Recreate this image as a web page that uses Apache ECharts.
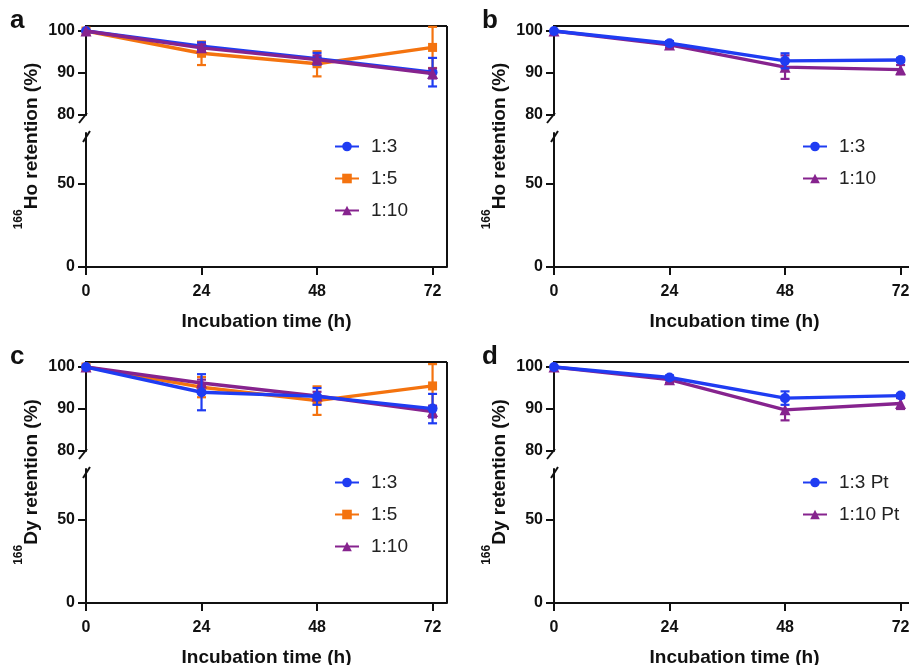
<!DOCTYPE html>
<html>
<head>
<meta charset="utf-8">
<script src="https://cdn.jsdelivr.net/npm/echarts@6/dist/echarts.min.js"></script>
<style>
html,body{margin:0;padding:0;background:#fff;}
#chart{width:909px;height:665px;}
</style>
</head>
<body>
<div id="chart"></div>
<script>
// ---------- data ----------
const hours = [0, 24, 48, 72];
const xTicks = [0, 24, 48, 72];
const yUpperTicks = [80, 90, 100];
const yLowerTicks = [0, 50];
const xTitle = 'Incubation time (h)';

// Panel a (166Ho)
const aRatio13 = [100, 96.4, 93.4, 90.2];
const aRatio13Err = [0, 0.9, 1.4, 3.4];
const aRatio15 = [100, 94.7, 92.2, 96.1];
const aRatio15Err = [0, 2.8, 3.0, 4.9];
const aRatio110 = [100, 96.0, 93.2, 89.9];
const aRatio110Err = [0, 0.8, 1.0, 1.2];
// Panel b (166Ho)
const bRatio13 = [100, 97.1, 92.9, 93.1];
const bRatio13Err = [0, 0.5, 1.8, 0.5];
const bRatio110 = [100, 96.7, 91.4, 90.8];
const bRatio110Err = [0, 0.6, 2.8, 1.1];
// Panel c (166Dy)
const cRatio13 = [100, 94.0, 93.0, 90.1];
const cRatio13Err = [0, 4.3, 2.0, 3.5];
const cRatio15 = [100, 95.2, 92.0, 95.5];
const cRatio15Err = [0, 2.4, 3.4, 5.2];
const cRatio110 = [100, 96.2, 93.1, 89.4];
const cRatio110Err = [0, 0.8, 1.0, 1.4];
// Panel d (166Dy)
const dRatio13Pt = [100, 97.5, 92.6, 93.2];
const dRatio13PtErr = [0, 0.5, 1.6, 0.4];
const dRatio110Pt = [100, 97.0, 89.8, 91.3];
const dRatio110PtErr = [0, 0.7, 2.5, 1.3];

// ---------- styles ----------
const FONT = '"Liberation Sans", Arial, sans-serif';
const BLUE = '#1f3cf2';
const ORANGE = '#f4730f';
const PURPLE = '#86238e';
const INK = '#111';

const S13 = {color: BLUE, symbol: 'circle', size: 10};
const S15 = {color: ORANGE, symbol: 'rect', size: 9};
const S110 = {color: PURPLE, symbol: 'triangle', size: 11};

const panels = [
  {letter: 'a', col: 0, row: 0, iso: 'Ho',
   legend: ['1:3', '1:5', '1:10'],
   draw: [
     {name: '1:5', v: aRatio15, e: aRatio15Err, s: S15},
     {name: '1:3', v: aRatio13, e: aRatio13Err, s: S13},
     {name: '1:10', v: aRatio110, e: aRatio110Err, s: S110}]},
  {letter: 'b', col: 1, row: 0, iso: 'Ho',
   legend: ['1:3', '1:10'],
   draw: [
     {name: '1:10', v: bRatio110, e: bRatio110Err, s: S110},
     {name: '1:3', v: bRatio13, e: bRatio13Err, s: S13}]},
  {letter: 'c', col: 0, row: 1, iso: 'Dy',
   legend: ['1:3', '1:5', '1:10'],
   draw: [
     {name: '1:5', v: cRatio15, e: cRatio15Err, s: S15},
     {name: '1:10', v: cRatio110, e: cRatio110Err, s: S110},
     {name: '1:3', v: cRatio13, e: cRatio13Err, s: S13}]},
  {letter: 'd', col: 1, row: 1, iso: 'Dy',
   legend: ['1:3 Pt', '1:10 Pt'],
   draw: [
     {name: '1:10 Pt', v: dRatio110Pt, e: dRatio110PtErr, s: S110},
     {name: '1:3 Pt', v: dRatio13Pt, e: dRatio13PtErr, s: S13}]}
];

// ---------- layout ----------
const COL_L = [86, 554];
const ROW_OFF = [0, 336];
const GRID_W = 361;
const UP_TOP = 26, UP_H = 89;
const LO_TOP = 133, LO_H = 134;

const grids = [], xAxes = [], yAxes = [], series = [], legends = [], graphics = [];

function errorBarSeries(idx, values, errs, color) {
  return {
    type: 'custom', xAxisIndex: idx, yAxisIndex: idx, silent: true,
    data: hours.map((h, i) => [h, values[i], errs[i]]),
    renderItem: function (params, api) {
      const x = api.value(0), m = api.value(1), e = api.value(2);
      if (!e) return null;
      const t = api.coord([x, m + e]), b = api.coord([x, m - e]);
      const hw = 4.5;
      const st = {stroke: color, lineWidth: 2.2};
      return {type: 'group', children: [
        {type: 'line', shape: {x1: t[0], y1: t[1], x2: b[0], y2: b[1]}, style: st},
        {type: 'line', shape: {x1: t[0] - hw, y1: t[1], x2: t[0] + hw, y2: t[1]}, style: st},
        {type: 'line', shape: {x1: b[0] - hw, y1: b[1], x2: b[0] + hw, y2: b[1]}, style: st}
      ]};
    }
  };
}

panels.forEach((p, pi) => {
  const L = COL_L[p.col], off = ROW_OFF[p.row];
  const up = 2 * pi, lo = 2 * pi + 1;
  grids.push({left: L, top: UP_TOP + off, width: GRID_W, height: UP_H, outerBoundsMode: 'none', containLabel: false});
  grids.push({left: L, top: LO_TOP + off, width: GRID_W, height: LO_H, outerBoundsMode: 'none', containLabel: false});

  xAxes.push({gridIndex: up, type: 'value', min: 0, max: 75, show: false});
  xAxes.push({gridIndex: lo, type: 'value', min: 0, max: 75,
    name: xTitle, nameLocation: 'middle', nameGap: 45,
    nameTextStyle: {fontFamily: FONT, fontSize: 19, fontWeight: 'bold', color: INK},
    axisLine: {onZero: false, lineStyle: {color: INK, width: 2}},
    axisTick: {length: 8, lineStyle: {color: INK, width: 2}, customValues: xTicks},
    axisLabel: {customValues: xTicks, margin: 17, fontFamily: FONT, fontSize: 16, fontWeight: 'bold', color: INK},
    splitLine: {show: false}});

  yAxes.push({gridIndex: up, type: 'value', min: 80, max: 101.2,
    axisLine: {show: true, onZero: false, lineStyle: {color: INK, width: 2}},
    axisTick: {show: true, length: 8, lineStyle: {color: INK, width: 2}, customValues: yUpperTicks},
    axisLabel: {customValues: yUpperTicks, margin: 11, fontFamily: FONT, fontSize: 16, fontWeight: 'bold', color: INK},
    splitLine: {show: false}});
  yAxes.push({gridIndex: lo, type: 'value', min: 0, max: 80,
    axisLine: {show: true, onZero: false, lineStyle: {color: INK, width: 2}},
    axisTick: {show: true, length: 8, lineStyle: {color: INK, width: 2}, customValues: yLowerTicks},
    axisLabel: {customValues: yLowerTicks, margin: 11, fontFamily: FONT, fontSize: 16, fontWeight: 'bold', color: INK},
    splitLine: {show: false}});

  p.draw.forEach((d, k) => {
    const z = 3 + k;
    const eb = errorBarSeries(up, d.v, d.e, d.s.color);
    eb.z = z;
    series.push(eb);
    series.push({
      name: d.name, type: 'line', xAxisIndex: up, yAxisIndex: up, z: z,
      data: hours.map((h, i) => [h, d.v[i]]),
      symbol: d.s.symbol, symbolSize: d.s.size, showSymbol: true,
      itemStyle: {color: d.s.color},
      lineStyle: {color: d.s.color, width: 3.4},
      emphasis: {disabled: true}, animation: false
    });
  });

  legends.push({
    orient: 'vertical', left: L + 243, top: 132 + off,
    itemWidth: 24, itemHeight: 12, itemGap: 13,
    textStyle: {fontFamily: FONT, fontSize: 19, color: '#222', padding: [0, 0, 0, 7]},
    data: p.legend, selectedMode: false
  });

  // frame: top and right borders
  const R = L + GRID_W;
  const frame = {stroke: INK, lineWidth: 2};
  graphics.push({type: 'line', shape: {x1: L - 1, y1: UP_TOP + off, x2: R, y2: UP_TOP + off}, style: frame});
  graphics.push({type: 'line', shape: {x1: R, y1: UP_TOP + off, x2: R, y2: LO_TOP + LO_H + off}, style: frame});
  // axis break slashes
  const ub = UP_TOP + UP_H + off, lt = LO_TOP + off;
  graphics.push({type: 'line', shape: {x1: L - 7, y1: ub + 8, x2: L + 1, y2: ub - 2}, style: frame});
  graphics.push({type: 'line', shape: {x1: L - 3, y1: lt + 9, x2: L + 4, y2: lt - 2}, style: frame});
  // panel letter
  graphics.push({type: 'text', x: [10, 482][p.col], y: 21 + off,
    style: {text: p.letter, fontFamily: FONT, fontSize: 26, fontWeight: 'bold', fill: INK, align: 'left', verticalAlign: 'middle'}});
  // y axis title with superscript mass number
  graphics.push({type: 'text', x: L - 59, y: 146 + off, rotation: Math.PI / 2,
    style: {
      text: '{sup|166}{main|' + p.iso + ' retention (%)}',
      align: 'center', verticalAlign: 'middle',
      rich: {
        sup: {fontFamily: FONT, fontSize: 12, fontWeight: 'bold', fill: INK, verticalAlign: 'top'},
        main: {fontFamily: FONT, fontSize: 19, fontWeight: 'bold', fill: INK, lineHeight: 28, verticalAlign: 'bottom'}
      }
    }});
});

const chart = echarts.init(document.getElementById('chart'), null, {renderer: 'canvas'});
chart.setOption({
  animation: false,
  backgroundColor: '#fff',
  grid: grids, xAxis: xAxes, yAxis: yAxes,
  legend: legends, series: series, graphic: graphics
});
</script>
</body>
</html>
